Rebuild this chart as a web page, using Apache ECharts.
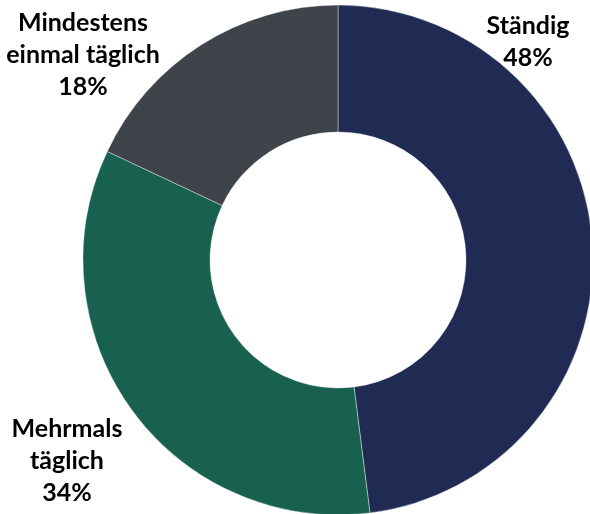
<!DOCTYPE html>
<html>
<head>
<meta charset="utf-8">
<script src="https://cdn.jsdelivr.net/npm/echarts@6/dist/echarts.min.js"></script>
<style>
  html, body { margin: 0; padding: 0; background: #ffffff; }
  #chart { width: 590px; height: 514px; }
</style>
</head>
<body>
<div id="chart"></div>
<script>
// Usage frequency shares (percent)
const categories = ['Ständig', 'Mehrmals täglich', 'Mindestens einmal täglich'];
const labelLines = [['Ständig'], ['Mehrmals', 'täglich'], ['Mindestens', 'einmal täglich']];
const shares = [48, 34, 18];
const colors = ['#202b54', '#18614f', '#3f434a'];

// Label anchor points (centre of each text block)
const labelPos = [
  { x: 528, y: 42 },
  { x: 67, y: 461 },
  { x: 83, y: 55 }
];

const chart = echarts.init(document.getElementById('chart'), null, { renderer: 'canvas' });

chart.setOption({
  animation: false,
  backgroundColor: '#ffffff',
  series: [{
    type: 'pie',
    center: [338, 260],
    radius: [128, 255],
    startAngle: 90,
    clockwise: true,
    avoidLabelOverlap: false,
    itemStyle: { borderColor: '#ffffff', borderWidth: 0.4 },
    label: {
      show: true,
      position: 'outside',
      fontFamily: 'Lato',
      fontWeight: 'bold',
      fontSize: 25,
      lineHeight: 32,
      color: '#000000',
      align: 'center',
      formatter: function (p) {
        return labelLines[p.dataIndex].join('\n') + '\n' + p.value + '%';
      }
    },
    labelLine: { show: false },
    labelLayout: function (p) {
      const pos = labelPos[p.dataIndex];
      return { x: pos.x, y: pos.y, align: 'center', verticalAlign: 'middle' };
    },
    emphasis: { disabled: true },
    data: categories.map(function (name, i) {
      return { name: name, value: shares[i], itemStyle: { color: colors[i] } };
    })
  }]
});
</script>
</body>
</html>
